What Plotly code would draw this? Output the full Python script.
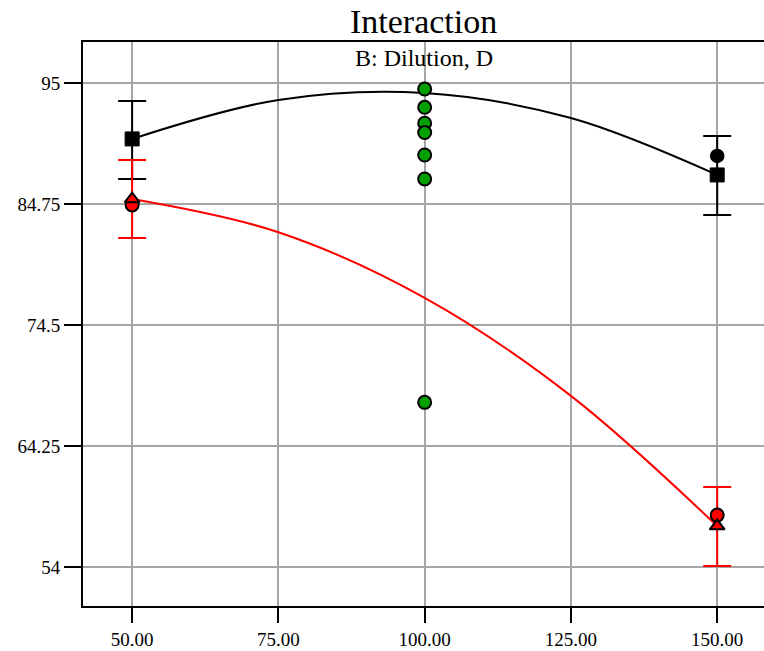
import plotly.graph_objects as go

# Factor levels (Dilution)
levels = [50, 75, 100, 125, 150]
end_levels = [50, 150]

# Model prediction lines read at each level
black_line = [90.26, 93.56, 94.15, 92.03, 87.21]
red_line = [85.17, 82.36, 76.80, 68.50, 57.47]

# Predicted means at the factorial levels and their LSD bars
black_pred = [90.26, 87.21]
black_hi = [93.48, 90.51]
black_lo = [86.87, 83.82]
red_pred = [85.17, 57.47]
red_hi = [88.48, 60.78]
red_lo = [81.87, 54.08]

# Observed design points
black_obs_x = [150]
black_obs_y = [88.82]
red_obs_x = [50, 150]
red_obs_y = [84.67, 58.40]
center_x = [100, 100, 100, 100, 100, 100, 100]
center_y = [94.49, 92.94, 91.59, 90.80, 88.90, 86.87, 67.95]

x_ticks = [50, 75, 100, 125, 150]
y_ticks = [54, 64.25, 74.5, 84.75, 95]
y_labels = ["54", "64.25", "74.5", "84.75", "95"]

SERIF = "Liberation Serif, Times New Roman, serif"

fig = go.Figure()

fig.add_trace(go.Scatter(x=levels, y=black_line, mode="lines",
                         line=dict(color="black", width=2, shape="spline", smoothing=1.0),
                         hoverinfo="skip"))
fig.add_trace(go.Scatter(x=levels, y=red_line, mode="lines",
                         line=dict(color="red", width=2, shape="spline", smoothing=1.0),
                         hoverinfo="skip"))


def bars(pred, hi, lo, color):
    return dict(type="data", symmetric=False,
                array=[h - p for h, p in zip(hi, pred)],
                arrayminus=[p - l for p, l in zip(pred, lo)],
                color=color, thickness=2, width=14)


fig.add_trace(go.Scatter(x=end_levels, y=black_pred, mode="markers",
                         marker=dict(size=0.1, color="black", opacity=0),
                         error_y=bars(black_pred, black_hi, black_lo, "black")))
fig.add_trace(go.Scatter(x=end_levels, y=red_pred, mode="markers",
                         marker=dict(size=0.1, color="red", opacity=0),
                         error_y=bars(red_pred, red_hi, red_lo, "red")))

fig.add_trace(go.Scatter(x=black_obs_x, y=black_obs_y, mode="markers",
                         marker=dict(symbol="circle", size=13, color="black",
                                     line=dict(color="black", width=1.5))))
fig.add_trace(go.Scatter(x=red_obs_x, y=red_obs_y, mode="markers",
                         marker=dict(symbol="circle", size=13, color="red",
                                     line=dict(color="black", width=2))))
fig.add_trace(go.Scatter(x=center_x, y=center_y, mode="markers",
                         marker=dict(symbol="circle", size=13, color="#00a000",
                                     line=dict(color="black", width=2))))

fig.add_trace(go.Scatter(x=end_levels, y=black_pred, mode="markers",
                         marker=dict(symbol="square", size=14, color="black",
                                     line=dict(color="black", width=1))))
fig.add_trace(go.Scatter(x=end_levels, y=red_pred, mode="markers",
                         marker=dict(symbol="triangle-up", size=13, color="red",
                                     line=dict(color="black", width=2))))

fig.update_layout(
    width=764, height=651,
    margin=dict(l=83, r=0, t=42, b=45),
    paper_bgcolor="white", plot_bgcolor="white",
    showlegend=False,
    font=dict(family=SERIF, color="black", size=19),
    annotations=[
        dict(text="Interaction", xref="paper", yref="paper", x=0.5, y=1,
             xanchor="center", yanchor="middle", yshift=21, showarrow=False,
             font=dict(family=SERIF, size=34, color="black")),
        dict(text="B: Dilution, D", xref="paper", yref="paper", x=0.5, y=1,
             xanchor="center", yanchor="middle", yshift=-16, showarrow=False,
             font=dict(family=SERIF, size=24, color="black")),
    ],
)

fig.update_xaxes(range=[41.6, 158.0], tickvals=x_ticks,
                 ticktext=[f"{v:.2f}" for v in x_ticks],
                 showgrid=True, gridcolor="#a6a6a6", gridwidth=2,
                 showline=True, linecolor="black", linewidth=2, mirror=True,
                 ticks="outside", ticklen=15, tickwidth=2, tickcolor="black",
                 zeroline=False, tickfont=dict(family=SERIF, size=19))
fig.update_yaxes(range=[50.70, 98.47], tickvals=y_ticks, ticktext=y_labels,
                 showgrid=True, gridcolor="#a6a6a6", gridwidth=2,
                 showline=True, linecolor="black", linewidth=2,
                 ticks="outside", ticklen=17, tickwidth=2, tickcolor="black",
                 zeroline=False, tickfont=dict(family=SERIF, size=19))

fig.write_html("out.html")
